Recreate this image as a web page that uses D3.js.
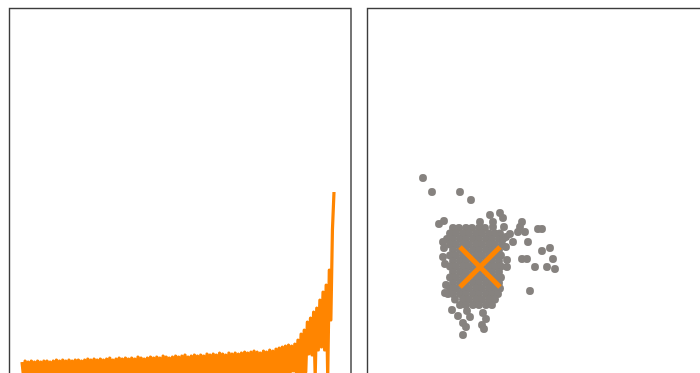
<!DOCTYPE html>
<html>
<head>
<meta charset="utf-8">
<script src="https://cdn.jsdelivr.net/npm/d3@7"></script>
<style>
  body { margin: 0; background: #ffffff; }
  svg { display: block; }
</style>
</head>
<body>
<div class="chart"></div>
<script>
// left panel: one long noisy sorted series (200 samples)
let seriesValues = [
  18,3,19,6,18,2,19,5,18,4,19,7,18,3,19,5,19,2,18,6,
  19,4,20,7,19,3,20,5,19,2,20,6,19,4,20,8,20,3,19,5,
  20,2,21,6,20,4,21,7,20,3,21,5,20,2,21,6,22,4,20,7,
  21,3,22,5,21,2,22,6,21,4,22,8,21,3,23,5,22,2,21,6,
  22,4,23,7,22,3,23,5,22,2,24,6,23,4,22,8,23,3,24,5,
  23,2,24,6,25,4,23,7,24,3,25,5,24,2,25,6,24,4,26,7,
  25,3,26,5,25,2,27,6,26,4,25,8,27,3,26,5,27,2,26,6,
  27,4,28,7,27,3,28,5,29,2,28,6,27,4,29,8,28,3,30,5,
  29,2,31,6,32,4,33,7,34,3,35,5,34,9,36,4,40,5,46,3,
  50,8,58,26,62,25,68,3,72,30,80,33,88,30,95,2,110,60,150,188
];

// right panel: 2-d point cloud [x, y]
let cloudPoints = [
  [-2.7,3.9],[-2.1,3.9],[-1.4,3.9],[-0.8,3.9],[-0.1,3.9],[0.5,3.9],
  [-3.0,3.35],[-2.4,3.35],[-1.7,3.35],[-1.1,3.35],[-0.4,3.35],[0.2,3.35],[0.9,3.35],[1.5,3.35],[2.0,3.35],
  [-3.3,2.8],[-2.7,2.8],[-2.0,2.8],[-1.4,2.8],[-0.7,2.8],[-0.1,2.8],[0.6,2.8],[1.2,2.8],[1.9,2.8],[2.3,2.8],
  [-3.0,2.25],[-2.4,2.25],[-1.7,2.25],[-1.1,2.25],[-0.4,2.25],[0.2,2.25],[0.9,2.25],[1.5,2.25],[2.2,2.25],
  [-2.7,1.7],[-2.0,1.7],[-1.4,1.7],[-0.7,1.7],[-0.1,1.7],[0.6,1.7],[1.2,1.7],[1.9,1.7],
  [-3.0,1.15],[-2.4,1.15],[-1.7,1.15],[-1.1,1.15],[-0.4,1.15],[0.2,1.15],[0.9,1.15],[1.5,1.15],[2.1,1.15],
  [-2.7,0.6],[-2.0,0.6],[-1.4,0.6],[-0.7,0.6],[-0.1,0.6],[0.6,0.6],[1.2,0.6],[1.9,0.6],
  [-3.0,0.05],[-2.4,0.05],[-1.7,0.05],[-1.1,0.05],[-0.4,0.05],[0.2,0.05],[0.9,0.05],[1.5,0.05],[2.1,0.05],
  [-2.7,-0.5],[-2.0,-0.5],[-1.4,-0.5],[-0.7,-0.5],[-0.1,-0.5],[0.6,-0.5],[1.2,-0.5],[1.9,-0.5],
  [-3.0,-1.05],[-2.4,-1.05],[-1.7,-1.05],[-1.1,-1.05],[-0.4,-1.05],[0.2,-1.05],[0.9,-1.05],[1.5,-1.05],[2.1,-1.05],
  [-2.7,-1.6],[-2.0,-1.6],[-1.4,-1.6],[-0.7,-1.6],[-0.1,-1.6],[0.6,-1.6],[1.2,-1.6],[1.9,-1.6],
  [-3.0,-2.15],[-2.4,-2.15],[-1.7,-2.15],[-1.1,-2.15],[-0.4,-2.15],[0.2,-2.15],[0.9,-2.15],[1.5,-2.15],[2.0,-2.15],
  [-3.2,-2.7],[-2.7,-2.7],[-2.0,-2.7],[-1.4,-2.7],[-0.7,-2.7],[-0.1,-2.7],[0.6,-2.7],[1.2,-2.7],[1.8,-2.7],
  [-2.5,-3.25],[-1.7,-3.25],[-1.1,-3.25],[-0.4,-3.25],[0.2,-3.25],[0.9,-3.25],[1.5,-3.25],
  [-2.0,-3.8],[-1.4,-3.8],[-0.7,-3.8],[-0.1,-3.8],[0.6,-3.8],[1.2,-3.8],
  // edges of the cloud
  [-3.7,2.5],[-3.7,1.0],[-3.5,-2.6],[-3.5,0.3],[-3.4,-1.8],[-3.6,1.9],[2.7,0.7],[2.7,0.0],
  [1.3,4.0],[2.4,4.0],[2.6,3.0],[3.3,2.5],[3.0,3.3],[2.6,2.0],
  [-2.8,-4.3],[-2.2,-4.9],[-1.3,-4.4],[-1.0,-5.0],[-1.7,-5.6],[0.3,-4.6],[0.6,-5.2],
  [0.2,-5.8],[0.4,-6.2],[-1.4,-6.0],[-1.7,-6.8],
  // outliers
  [-5.7,8.9],[-4.8,7.5],[-2.0,7.5],[-0.9,6.7],[-4.1,4.3],[-3.6,4.6],
  [1.0,5.2],[2.0,5.4],[2.3,4.9],[1.3,4.5],[0.0,4.5],
  [4.2,4.5],[4.0,4.0],[4.5,3.5],[3.8,3.5],[5.8,3.8],[6.2,3.8],[4.8,2.5],
  [7.0,1.9],[6.2,1.6],[4.2,0.8],[4.7,0.8],[7.3,0.8],[5.5,0.0],[6.7,0.0],[7.5,-0.2],[5.0,-2.4]
];

// centre of the cloud
let centerPoint = [0, 0];

let width = 700;
let height = 373;
let orange = "#ff8500";
let grey = "#86827f";

let svg = d3.select("div.chart").append("svg")
  .attr("width", width)
  .attr("height", height);

// soften edges a little, the reference is slightly blurred
svg.append("defs").append("filter")
  .attr("id", "soft")
  .append("feGaussianBlur")
  .attr("stdDeviation", 0.5);

// panel frames
let panels = [
  {x: 9.5, y: 8.5, w: 341.5, h: 420},
  {x: 367.5, y: 8.5, w: 341.5, h: 420}
];

svg.selectAll("rect.frame")
  .data(panels)
  .enter()
  .append("rect")
  .attr("class", "frame")
  .attr("x", function(d) { return d.x; })
  .attr("y", function(d) { return d.y; })
  .attr("width", function(d) { return d.w; })
  .attr("height", function(d) { return d.h; })
  .attr("fill", "none")
  .attr("stroke", "#3c3c3c")
  .attr("stroke-width", 1.4);

// left panel line
let xLine = d3.scaleLinear()
  .domain([0, seriesValues.length - 1])
  .range([22, 334]);
let yLine = d3.scaleLinear()
  .domain([0, 200])
  .range([380, 180]);

let line = d3.line()
  .x(function(d, i) { return xLine(i); })
  .y(function(d) { return yLine(d); });

svg.append("clipPath")
  .attr("id", "clipLeft")
  .append("rect")
  .attr("x", 10).attr("y", 9).attr("width", 340).attr("height", 400);

let left = svg.append("g")
  .attr("clip-path", "url(#clipLeft)")
  .append("g")
  .attr("filter", "url(#soft)");

left.append("path")
  .datum(seriesValues)
  .attr("d", line)
  .attr("fill", "none")
  .attr("stroke", orange)
  .attr("stroke-width", 3.2)
  .attr("stroke-linejoin", "round");

// right panel scatter
let xPts = d3.scaleLinear()
  .domain([-10, 10])
  .range([380, 580]);
let yPts = d3.scaleLinear()
  .domain([-10, 10])
  .range([367, 167]);

let right = svg.append("g")
  .attr("filter", "url(#soft)");

right.selectAll("circle")
  .data(cloudPoints)
  .enter()
  .append("circle")
  .attr("cx", function(d) { return xPts(d[0]); })
  .attr("cy", function(d) { return yPts(d[1]); })
  .attr("r", 3.95)
  .attr("fill", grey);

// big cross marker at the centre
let cx = xPts(centerPoint[0]);
let cy = yPts(centerPoint[1]);
let half = 20;
right.append("path")
  .attr("d", d3.line()([[cx - half, cy - half], [cx + half, cy + half]]) +
             d3.line()([[cx - half, cy + half], [cx + half, cy - half]]))
  .attr("fill", "none")
  .attr("stroke", orange)
  .attr("stroke-width", 5);
</script>
</body>
</html>
